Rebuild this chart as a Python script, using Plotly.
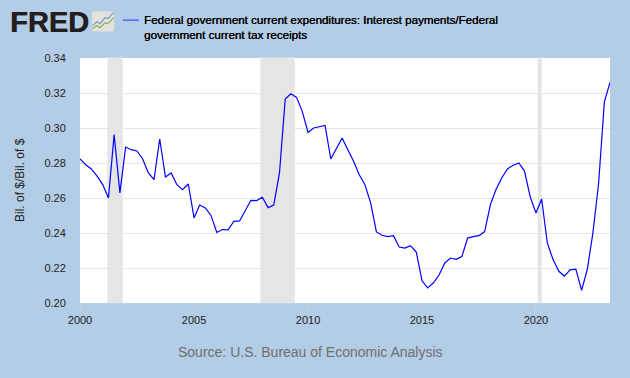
import pandas as pd
import plotly.graph_objects as go

quarters = pd.date_range("2000-01-01", periods=94, freq="QS")
ratio = [
    .2823, .2790, .2766, .2725, .2675, .2600, .2962, .2629, .2891, .2876,
    .2869, .2823, .2743, .2705, .2937, .2720, .2743, .2676, .2648, .2680,
    .2486, .2560, .2543, .2499, .2403, .2420, .2418, .2467, .2469, .2524,
    .2587, .2585, .2604, .2545, .2560, .2743, .3166, .3196, .3175, .3095,
    .2975, .3000, .3006, .3015, .2823, .2886, .2943, .2876, .2810, .2733,
    .2676, .2571, .2406, .2387, .2379, .2385, .2320, .2314, .2328, .2291,
    .2128, .2086, .2114, .2160, .2229, .2257, .2250, .2265, .2371, .2379,
    .2385, .2408, .2562, .2648, .2714, .2766, .2787, .2800, .2754, .2606,
    .2514, .2594, .2343, .2248, .2181, .2154, .2189, .2194, .2072, .2190,
    .2400, .2686, .3149, .3261,
]
recession_start = ["2001-03-15", "2007-12-01", "2020-02-01"]
recession_end = ["2001-11-15", "2009-06-01", "2020-04-01"]
x_ticks = ["2000-01-01", "2005-01-01", "2010-01-01", "2015-01-01", "2020-01-01"]
x_labels = ["2000", "2005", "2010", "2015", "2020"]
y_ticks = [0.20, 0.22, 0.24, 0.26, 0.28, 0.30, 0.32, 0.34]
series_title = ("Federal government current expenditures: Interest payments/Federal<br>"
                "government current tax receipts")
y_title = "Bil. of $/Bil. of $"
source = "Source: U.S. Bureau of Economic Analysis"

BG = "#B3CDE6"
FONT = "Liberation Sans"
W, H = 630, 378
L, R, T, B = 80, 20, 57.5, 74.5
px = lambda v: (v - L) / (W - L - R)
py = lambda v: 1 - (v - T) / (H - T - B)

fig = go.Figure(go.Scatter(x=quarters, y=ratio, mode="lines", name="Interest payments/tax receipts",
                           line=dict(color="#0000FF", width=1.2), showlegend=False))

shapes = [dict(type="rect", xref="x", yref="paper", x0=a, x1=b, y0=0, y1=1, layer="between",
               fillcolor="#E5E5E5", line=dict(color="#EDEDED", width=1))
          for a, b in zip(recession_start, recession_end)]

# legend key
shapes.append(dict(type="line", xref="paper", yref="paper", x0=px(123), x1=px(139), y0=py(19.5), y1=py(19.5),
                   line=dict(color="#5F5FFF", width=1.5)))
# logo icon
shapes.append(dict(type="path", xref="paper", yref="paper",
                   path=f"M {px(94)} {py(10.5)} L {px(112)} {py(10.5)} Q {px(114)} {py(10.5)} {px(114)} {py(12.5)} "
                        f"L {px(114)} {py(29)} Q {px(114)} {py(31)} {px(112)} {py(31)} L {px(94)} {py(31)} "
                        f"Q {px(92)} {py(31)} {px(92)} {py(29)} L {px(92)} {py(12.5)} Q {px(92)} {py(10.5)} {px(94)} {py(10.5)} Z",
                   fillcolor="#E2E2DC", line=dict(color="#D0D4D4", width=0.5)))
shapes.append(dict(type="path", xref="paper", yref="paper",
                   path=f"M {px(92.5)} {py(25)} L {px(97)} {py(21)} L {px(100)} {py(23)} L {px(105)} {py(17)} L {px(108)} {py(18)} L {px(113.5)} {py(12)}",
                   line=dict(color="#6F9BBE", width=1.2)))
shapes.append(dict(type="path", xref="paper", yref="paper",
                   path=f"M {px(92.5)} {py(28)} L {px(97)} {py(25)} L {px(100)} {py(27)} L {px(105)} {py(22)} L {px(108)} {py(23)} L {px(113.5)} {py(17)}",
                   line=dict(color="#8FAE5A", width=1.2)))

annotations = [
    dict(text="<b>FRED</b>", x=px(7.5), y=py(21), xref="paper", yref="paper", xanchor="left", yanchor="middle",
         showarrow=False, font=dict(family=FONT, size=29, color="#231F20", shadow="0.6px 0 0 #231F20")),
    dict(text=series_title, x=px(141.5), y=py(26.5), xref="paper", yref="paper", xanchor="left", yanchor="middle",
         align="left", showarrow=False, font=dict(family=FONT, size=11.6, color="#000000", shadow="0.3px 0 0 #000000")),
    dict(text=y_title, x=px(20), y=py(180), xref="paper", yref="paper", xanchor="center", yanchor="middle",
         textangle=-90, showarrow=False, font=dict(family=FONT, size=12, color="#222222")),
    dict(text=source, x=px(310), y=py(353), xref="paper", yref="paper", xanchor="center", yanchor="middle",
         showarrow=False, font=dict(family=FONT, size=14, color="#6E6E6E")),
]

fig.update_layout(
    width=W, height=H, autosize=False,
    margin=dict(l=L, r=R, t=T, b=B, pad=0),
    paper_bgcolor=BG, plot_bgcolor="#FFFFFF",
    shapes=shapes, annotations=annotations,
    font=dict(family=FONT, size=11, color="#222222"),
    xaxis=dict(range=["2000-01-01", "2023-04-01"], tickmode="array", tickvals=x_ticks, ticktext=x_labels,
               showgrid=False, ticks="outside", ticklen=7, tickcolor="#C0D0E0", tickwidth=1,
               showline=True, linecolor="#C0D0E0", linewidth=1, zeroline=False,
               tickfont=dict(family=FONT, size=11, color="#222222")),
    yaxis=dict(range=[0.20, 0.34], tickmode="array", tickvals=y_ticks, tickformat=".2f",
               showgrid=True, gridcolor="#E6E6E6", gridwidth=1, zeroline=False, showline=False,
               ticks="outside", ticklen=11, tickcolor="rgba(0,0,0,0)",
               tickfont=dict(family=FONT, size=11, color="#222222")),
)
fig.write_html("out.html", config=dict(displayModeBar=False), post_script="document.body.style.margin='0';")
